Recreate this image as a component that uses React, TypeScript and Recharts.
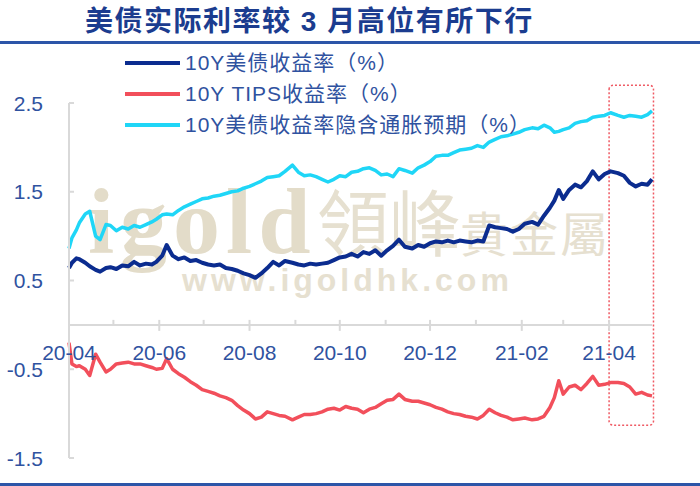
import { Line, LineChart, ReferenceArea, ReferenceLine, XAxis, YAxis } from "recharts";

// sample dates (roughly every 4 days), Apr 2020 – Apr 2021
const dates = [
  "2020-04-01", "2020-04-03", "2020-04-06", "2020-04-08", "2020-04-12", "2020-04-15", "2020-04-19", "2020-04-22", "2020-04-26", "2020-04-29",
  "2020-05-03", "2020-05-07", "2020-05-11", "2020-05-15", "2020-05-19", "2020-05-23", "2020-05-27", "2020-05-30", "2020-06-03", "2020-06-06",
  "2020-06-10", "2020-06-14", "2020-06-18", "2020-06-22", "2020-06-26", "2020-06-30", "2020-07-04", "2020-07-08", "2020-07-12", "2020-07-16",
  "2020-07-20", "2020-07-24", "2020-07-28", "2020-08-01", "2020-08-05", "2020-08-09", "2020-08-13", "2020-08-17", "2020-08-21", "2020-08-25",
  "2020-08-30", "2020-09-03", "2020-09-07", "2020-09-11", "2020-09-15", "2020-09-19", "2020-09-23", "2020-09-27", "2020-10-01", "2020-10-05",
  "2020-10-09", "2020-10-13", "2020-10-17", "2020-10-21", "2020-10-25", "2020-10-29", "2020-11-02", "2020-11-06", "2020-11-10", "2020-11-14",
  "2020-11-19", "2020-11-23", "2020-11-27", "2020-12-01", "2020-12-05", "2020-12-09", "2020-12-13", "2020-12-17", "2020-12-21", "2020-12-25",
  "2020-12-29", "2021-01-02", "2021-01-06", "2021-01-10", "2021-01-14", "2021-01-18", "2021-01-22", "2021-01-26", "2021-01-30", "2021-02-03",
  "2021-02-08", "2021-02-12", "2021-02-16", "2021-02-20", "2021-02-23", "2021-02-26", "2021-03-01", "2021-03-05", "2021-03-09", "2021-03-13",
  "2021-03-17", "2021-03-21", "2021-03-25", "2021-03-29", "2021-04-02", "2021-04-07", "2021-04-11", "2021-04-15", "2021-04-19", "2021-04-23",
  "2021-04-27", "2021-04-30",
];

// 10Y 美债收益率 (%)
const nominal = [
  0.64, 0.70, 0.75, 0.74, 0.70, 0.66, 0.62, 0.60, 0.64, 0.65,
  0.63, 0.67, 0.66, 0.71, 0.67, 0.69, 0.68, 0.71, 0.78, 0.90,
  0.78, 0.74, 0.76, 0.72, 0.73, 0.70, 0.68, 0.67, 0.68, 0.64,
  0.63, 0.61, 0.58, 0.56, 0.53, 0.58, 0.64, 0.71, 0.67, 0.72,
  0.70, 0.68, 0.67, 0.69, 0.68, 0.69, 0.70, 0.73, 0.76, 0.77,
  0.80, 0.77, 0.82, 0.80, 0.84, 0.78, 0.84, 0.89, 0.96, 0.88,
  0.86, 0.90, 0.88, 0.92, 0.94, 0.93, 0.95, 0.93, 0.95, 0.94,
  0.93, 0.95, 0.94, 1.12, 1.10, 1.09, 1.08, 1.05, 1.08, 1.14,
  1.16, 1.13, 1.23, 1.32, 1.40, 1.52, 1.42, 1.52, 1.58, 1.55,
  1.62, 1.73, 1.64, 1.70, 1.73, 1.71, 1.68, 1.60, 1.56, 1.59,
  1.58, 1.64,
];

// 10Y TIPS 收益率 (%)
const tips = [
  -0.20, -0.44, -0.47, -0.46, -0.50, -0.57, -0.33, -0.42, -0.53, -0.50,
  -0.44, -0.43, -0.42, -0.44, -0.44, -0.46, -0.48, -0.50, -0.49, -0.38,
  -0.50, -0.55, -0.59, -0.64, -0.68, -0.73, -0.75, -0.77, -0.80, -0.82,
  -0.85, -0.91, -0.96, -1.00, -1.06, -1.04, -0.98, -1.00, -1.02, -1.03,
  -1.07, -1.04, -1.01, -1.01, -1.00, -0.98, -0.95, -0.94, -0.96, -0.92,
  -0.94, -0.95, -0.99, -0.95, -0.93, -0.89, -0.85, -0.84, -0.78, -0.84,
  -0.86, -0.86, -0.88, -0.90, -0.93, -0.95, -0.98, -1.00, -1.01, -1.03,
  -1.04, -1.06, -1.02, -0.95, -0.99, -1.02, -1.04, -1.07, -1.06, -1.05,
  -1.07, -1.06, -1.03, -0.93, -0.82, -0.63, -0.78, -0.70, -0.68, -0.73,
  -0.66, -0.58, -0.68, -0.67, -0.65, -0.65, -0.66, -0.70, -0.78, -0.76,
  -0.79, -0.80,
];

// 10Y 美债收益率隐含通胀预期 (%)
const breakeven = [
  0.86, 0.98, 1.07, 1.15, 1.25, 1.28, 1.00, 0.96, 1.13, 1.12,
  1.06, 1.10, 1.08, 1.12, 1.10, 1.13, 1.16, 1.19, 1.24, 1.25,
  1.24, 1.29, 1.33, 1.36, 1.39, 1.42, 1.43, 1.45, 1.46, 1.48,
  1.50, 1.51, 1.54, 1.56, 1.59, 1.62, 1.66, 1.67, 1.68, 1.73,
  1.80, 1.72, 1.68, 1.69, 1.67, 1.64, 1.61, 1.64, 1.68, 1.67,
  1.72, 1.73, 1.76, 1.77, 1.74, 1.69, 1.70, 1.67, 1.76, 1.74,
  1.71, 1.77, 1.80, 1.84, 1.90, 1.91, 1.91, 1.94, 1.97, 1.98,
  1.99, 2.02, 2.00, 2.06, 2.09, 2.12, 2.13, 2.15, 2.17, 2.20,
  2.22, 2.21, 2.25, 2.22, 2.17, 2.18, 2.20, 2.22, 2.27, 2.29,
  2.30, 2.34, 2.35, 2.36, 2.39, 2.36, 2.34, 2.36, 2.35, 2.34,
  2.37, 2.41,
];

const monthTicks = [
  "2020-04-01", "2020-05-01", "2020-06-01", "2020-07-01", "2020-08-01", "2020-09-01", "2020-10-01",
  "2020-11-01", "2020-12-01", "2021-01-01", "2021-02-01", "2021-03-01", "2021-04-01",
];
const yTicks = [-1.5, -0.5, 0.5, 1.5, 2.5];

const series = [
  { key: "nominal", name: "10Y美债收益率（%）", color: "#0b2c8f", width: 4 },
  { key: "tips", name: "10Y TIPS收益率（%）", color: "#f24f5b", width: 3.5 },
  { key: "breakeven", name: "10Y美债收益率隐含通胀预期（%）", color: "#1fd6f7", width: 3.5 },
];

// highlighted window (April 2021)
const boxStart = "2021-04-01";
const boxEnd = "2021-05-01";
const boxLow = -1.13;
const boxHigh = 2.7;

const toTs = (s: string) => new Date(s).getTime();

const rows = dates.map((d, i) => ({
  ts: toTs(d),
  nominal: nominal[i],
  tips: tips[i],
  breakeven: breakeven[i],
}));

const W = 700;
const H = 486;
const PLOT_TOP = 103;
const PLOT_BOTTOM = 458;
const X_AXIS_H = 28;
const Y_MIN = -1.5;
const Y_MAX = 2.5;
const ZERO_Y = PLOT_TOP + ((Y_MAX - 0) / (Y_MAX - Y_MIN)) * (PLOT_BOTTOM - PLOT_TOP);

const LABEL_BLUE = "#2f52a0";
const AXIS_GRAY = "#d9d9d9";
const NUM_FONT = "'Liberation Sans', Arial, sans-serif";
const CJK_FONT = "'Liberation Sans', 'Noto Sans CJK SC', sans-serif";

function fmtMonth(ts: number): string {
  const d = new Date(ts);
  return `${String(d.getUTCFullYear()).slice(2)}-${String(d.getUTCMonth() + 1).padStart(2, "0")}`;
}

// x ticks sit on the zero line, labels every second month
function MonthTick(props: any) {
  const { x, payload } = props;
  const month = new Date(payload.value).getUTCMonth() + 1;
  const labelled = month % 2 === 0;
  return (
    <g>
      <line x1={x} x2={x} y1={ZERO_Y - 5} y2={labelled ? ZERO_Y + 6 : ZERO_Y} stroke={AXIS_GRAY} strokeWidth={2} />
      {labelled && (
        <text x={x} y={ZERO_Y + 28} textAnchor="middle" dominantBaseline="central" fill={LABEL_BLUE} fontSize={21} fontFamily={NUM_FONT}>
          {fmtMonth(payload.value)}
        </text>
      )}
    </g>
  );
}

function ValueTick(props: any) {
  const { x, y, payload } = props;
  return (
    <g>
      <line x1={x} x2={x + 5} y1={y} y2={y} stroke={AXIS_GRAY} strokeWidth={2} />
      <text x={x - 26} y={y} textAnchor="end" dominantBaseline="central" fill={LABEL_BLUE} fontSize={21} fontFamily={NUM_FONT}>
        {Number(payload.value).toFixed(1)}
      </text>
    </g>
  );
}

function Watermark() {
  const fill = "#e6e0d0";
  return (
    <svg width={W} height={H} style={{ position: "absolute", left: 0, top: 0 }}>
      <text x={88} y={253} fontSize={94} fontWeight={700} fontFamily="'Liberation Serif', serif" letterSpacing={6} fill="#e3dcc9">
        igold
      </text>
      <text x={317} y={250} fontSize={72} fontFamily="'Noto Sans CJK TC', sans-serif" fill={fill}>
        領峰
      </text>
      <text x={460} y={252} fontSize={48} fontFamily="'Noto Sans CJK TC', sans-serif" letterSpacing={2} fill={fill}>
        貴金屬
      </text>
      <text x={182} y={291} fontSize={32} fontWeight={700} fontFamily={NUM_FONT} letterSpacing={4} fill={fill}>
        www.igoldhk.com
      </text>
    </svg>
  );
}

export default function App() {
  return (
    <div style={{ position: "absolute", left: 0, top: 0, width: W, height: H, background: "#fff", overflow: "hidden" }}>
      <Watermark />

      <div style={{ position: "absolute", left: 0, top: 0 }}>
        <LineChart
          width={W}
          height={H}
          data={rows}
          margin={{ top: PLOT_TOP, right: 48, bottom: H - PLOT_BOTTOM - X_AXIS_H, left: 0 }}
        >
          <XAxis
            dataKey="ts"
            type="number"
            domain={["dataMin", "dataMax"]}
            ticks={monthTicks.map(toTs)}
            interval={0}
            height={X_AXIS_H}
            axisLine={false}
            tickLine={false}
            tickSize={0}
            tickMargin={0}
            tick={<MonthTick />}
          />
          <YAxis
            type="number"
            domain={[Y_MIN, Y_MAX]}
            ticks={yTicks}
            interval={0}
            width={69}
            axisLine={{ stroke: AXIS_GRAY, strokeWidth: 2 }}
            tickLine={false}
            tickSize={0}
            tickMargin={0}
            tick={<ValueTick />}
          />
          <ReferenceLine y={0} stroke={AXIS_GRAY} strokeWidth={2} />
          {series.map((s) => (
            <Line
              key={s.key}
              dataKey={s.key}
              type="linear"
              stroke={s.color}
              strokeWidth={s.width}
              strokeLinejoin="round"
              dot={false}
              isAnimationActive={false}
            />
          ))}
          <ReferenceArea
            x1={toTs(boxStart)}
            x2={toTs(boxEnd)}
            y1={boxLow}
            y2={boxHigh}
            ifOverflow="visible"
            fill="none"
            stroke="#ef5a64"
            strokeWidth={1.5}
            strokeDasharray="2 2"
            radius={4}
          />
        </LineChart>
      </div>

      {/* title */}
      <div
        style={{
          position: "absolute",
          left: 85,
          top: 7,
          fontSize: 28,
          lineHeight: "30px",
          fontWeight: 700,
          letterSpacing: 1.5,
          color: "#1b3c8f",
          fontFamily: CJK_FONT,
          whiteSpace: "nowrap",
        }}
      >
        美债实际利率较 3 月高位有所下行
      </div>
      <div style={{ position: "absolute", left: 0, top: 41, width: W, height: 3, background: "#2c55a8" }} />
      <div style={{ position: "absolute", left: 0, top: 483, width: W, height: 3, background: "#2c55a8" }} />

      {/* legend */}
      <div style={{ position: "absolute", left: 125, top: 47 }}>
        {series.map((s) => (
          <div key={s.key} style={{ display: "flex", alignItems: "center", height: 31.3 }}>
            <div style={{ width: 55, height: 4, background: s.color }} />
            <span
              style={{
                marginLeft: 5,
                fontSize: 21,
                lineHeight: "24px",
                letterSpacing: 1,
                color: LABEL_BLUE,
                fontFamily: CJK_FONT,
                whiteSpace: "nowrap",
              }}
            >
              {s.name}
            </span>
          </div>
        ))}
      </div>
    </div>
  );
}
